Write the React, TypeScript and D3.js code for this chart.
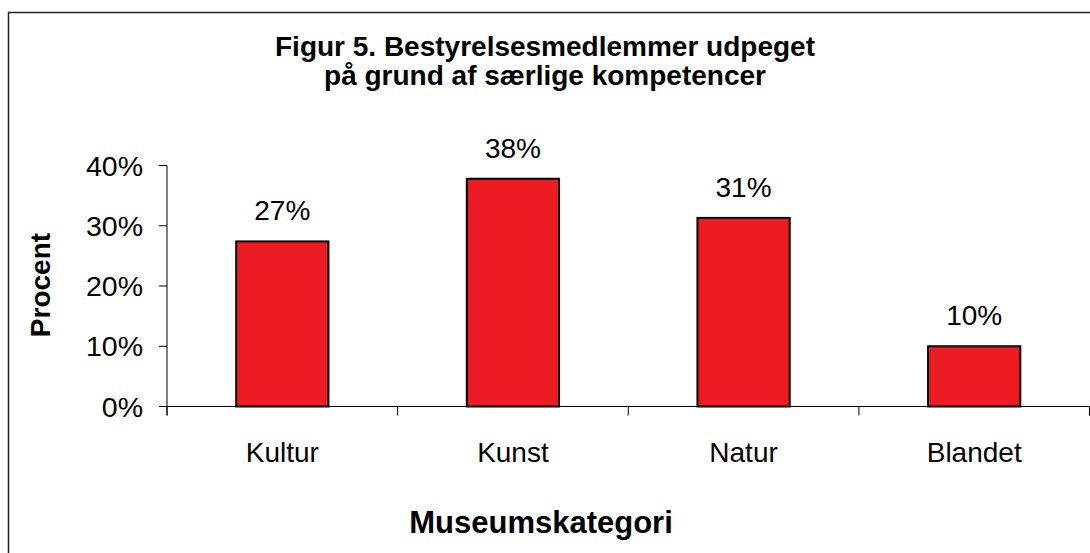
import React from 'react';
import * as d3 from 'd3';

const categories = ['Kultur', 'Kunst', 'Natur', 'Blandet'];
const shares = [0.274, 0.378, 0.313, 0.1];
const yTicks = [0, 0.1, 0.2, 0.3, 0.4];
const titleLines = ['Figur 5. Bestyrelsesmedlemmer udpeget', 'på grund af særlige kompetencer'];

const width = 1090;
const height = 553;
const font = '"Liberation Sans", Arial, sans-serif';

function App() {
  const plot = { left: 167, right: 1089.5, top: 165.5, bottom: 406.5 };

  const x = d3
    .scaleBand<string>()
    .domain(categories)
    .range([plot.left, plot.right])
    .paddingInner(0.6)
    .paddingOuter(0.3);

  const y = d3.scaleLinear().domain([0, 0.4]).range([plot.bottom, plot.top]);
  const pct = d3.format('.0%');

  // category boundaries for the x-axis tick marks
  const step = (plot.right - plot.left) / categories.length;
  const bounds = d3.range(categories.length + 1).map((i) => plot.left + i * step);

  return (
    <svg
      width={width}
      height={height}
      style={{ position: 'absolute', left: 0, top: 0, background: '#fff' }}
      fontFamily={font}
    >
      {/* chart frame, runs past the window on right and bottom */}
      <rect x={8.5} y={12.5} width={1110} height={570} fill="#fff" stroke="#222" strokeWidth={1.5} />

      {titleLines.map((t, i) => (
        <text key={t} x={545} y={56 + i * 29} textAnchor="middle" fontSize={28} fontWeight="bold" fill="#000">
          {t}
        </text>
      ))}

      {/* y axis */}
      <line x1={plot.left} x2={plot.left} y1={y(0.4)} y2={plot.bottom + 9} stroke="#000" />
      {yTicks.map((t) => (
        <g key={t}>
          <line x1={plot.left - 8} x2={plot.left} y1={y(t)} y2={y(t)} stroke="#000" />
          <text x={143} y={y(t) + 10} textAnchor="end" fontSize={28.5} fill="#000">
            {pct(t)}
          </text>
        </g>
      ))}

      {/* x axis */}
      <line x1={plot.left - 8} x2={plot.right} y1={plot.bottom} y2={plot.bottom} stroke="#000" />
      {bounds.map((b) => (
        <line key={b} x1={b} x2={b} y1={plot.bottom} y2={plot.bottom + 9} stroke="#000" />
      ))}

      {categories.map((c, i) => (
        <g key={c}>
          <rect
            x={x(c)}
            y={y(shares[i])}
            width={x.bandwidth()}
            height={y(0) - y(shares[i])}
            fill="#ED1C24"
            stroke="#000"
            strokeWidth={2}
          />
          <text x={x(c)! + x.bandwidth() / 2} y={y(shares[i]) - 21} textAnchor="middle" fontSize={28} fill="#000">
            {pct(shares[i])}
          </text>
          <text x={x(c)! + x.bandwidth() / 2} y={462} textAnchor="middle" fontSize={28} fill="#000">
            {c}
          </text>
        </g>
      ))}

      <text x={541} y={533} textAnchor="middle" fontSize={31} fontWeight="bold" fill="#000">
        Museumskategori
      </text>
      <text
        transform={`translate(50, 285) rotate(-90)`}
        textAnchor="middle"
        fontSize={28}
        fontWeight="bold"
        fill="#000"
      >
        Procent
      </text>
    </svg>
  );
}

export default App;
